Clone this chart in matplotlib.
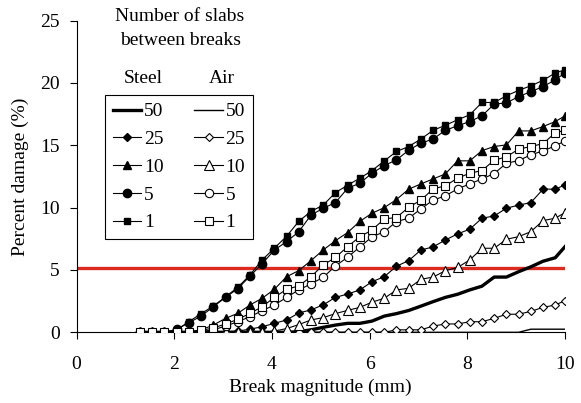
import matplotlib
matplotlib.use("Agg")
import matplotlib.pyplot as plt

plt.rcParams['font.family'] = ['Liberation Serif', 'DejaVu Serif']

break_mm = [1.3, 1.55, 1.8, 2.05, 2.3, 2.55, 2.8, 3.05, 3.3, 3.55, 3.8, 4.05,
            4.3, 4.55, 4.8, 5.05, 5.3, 5.55, 5.8, 6.05, 6.3, 6.55, 6.8, 7.05,
            7.3, 7.55, 7.8, 8.05, 8.3, 8.55, 8.8, 9.05, 9.3, 9.55, 9.8, 10.0]

steel_50 = [0, 0, 0, 0, 0, 0, 0, 0, 0, 0, 0, 0, 0, 0.05, 0.2, 0.4, 0.58, 0.72,
            0.72, 0.9, 1.3, 1.5, 1.75, 2.1, 2.46, 2.8, 3.05, 3.4, 3.7, 4.43,
            4.43, 4.86, 5.25, 5.7, 5.98, 6.87]
steel_25 = [0, 0, 0, 0, 0, 0, 0, 0.05, 0.1, 0.25, 0.45, 0.72, 0.99, 1.55, 1.8,
            2.2, 2.8, 3.07, 3.4, 4.06, 4.46, 5.3, 5.75, 6.6, 6.85, 7.4, 7.89,
            8.27, 9.15, 9.33, 9.95, 10.2, 10.4, 11.48, 11.48, 11.82]
steel_10 = [0, 0, 0, 0, 0.05, 0.2, 0.58, 1.12, 1.52, 2.19, 2.73, 3.45, 4.46,
            4.95, 5.75, 6.6, 7.35, 8.0, 8.9, 9.55, 10.0, 10.65, 11.48, 11.9,
            12.3, 12.7, 13.75, 13.75, 14.57, 14.9, 15.03, 16.15, 16.15, 16.5,
            16.9, 17.36]
steel_5 = [0, 0, 0, 0.24, 0.77, 1.3, 2.05, 2.8, 3.5, 4.5, 5.5, 6.6, 7.27, 8.07,
           9.4, 9.95, 10.4, 11.55, 11.96, 12.76, 13.37, 13.83, 14.6, 15.17,
           15.5, 16.2, 16.56, 16.9, 17.36, 18.3, 18.4, 18.9, 19.3, 19.7, 20.25,
           20.8]
steel_1 = [0, 0, 0, 0.2, 0.85, 1.5, 2.1, 2.85, 3.6, 4.6, 5.8, 6.75, 7.7, 8.9,
           9.7, 10.2, 11.2, 11.8, 12.36, 12.97, 13.75, 14.5, 14.9, 15.5, 16.2,
           16.6, 17.04, 17.44, 18.43, 18.43, 18.97, 19.4, 19.77, 20.2, 20.8,
           21.05]

air_50 = [0, 0, 0, 0, 0, 0, 0, 0, 0, 0, 0, 0, 0, 0, 0, 0, 0, 0, 0, 0, 0, 0, 0,
          0, 0, 0, 0, 0, 0, 0, 0, 0, 0.25, 0.25, 0.25, 0.25]
air_25 = [0, 0, 0, 0, 0, 0, 0, 0, 0, 0, 0, 0, 0, 0, 0, 0, 0, 0, 0, 0, 0, 0.2,
          0.2, 0.2, 0.5, 0.67, 0.67, 0.85, 0.85, 1.12, 1.45, 1.45, 1.68, 2.0,
          2.19, 2.54]
air_10 = [0, 0, 0, 0, 0, 0, 0, 0, 0, 0, 0, 0.1, 0.3, 0.62, 0.99, 1.18, 1.5,
          1.76, 2.0, 2.42, 2.73, 3.4, 3.53, 4.25, 4.43, 4.94, 5.2, 5.8, 6.74,
          6.74, 7.46, 7.67, 8.07, 8.96, 9.15, 9.6]
air_5 = [0, 0, 0, 0, 0, 0.05, 0.2, 0.5, 0.85, 1.25, 1.73, 2.19, 2.8, 3.4, 3.88,
         4.41, 5.32, 6.02, 6.85, 7.65, 8.07, 8.88, 9.15, 9.9, 10.6, 10.94, 11.5,
         11.9, 12.3, 12.73, 13.56, 13.77, 14.23, 14.55, 14.95, 15.35]
air_1 = [0, 0, 0, 0, 0.05, 0.15, 0.35, 0.67, 1.04, 1.52, 2.05, 2.8, 3.45, 3.72,
         4.46, 5.4, 6.0, 6.87, 7.67, 8.2, 9.1, 9.2, 10.03, 10.6, 11.5, 11.75,
         12.36, 12.76, 12.97, 13.8, 14.07, 14.69, 14.9, 15.13, 16.0, 16.2]

threshold = 5.15
labels = ["50", "25", "10", "5", "1"]
x_ticks = [0, 2, 4, 6, 8, 10]
y_ticks = [0, 5, 10, 15, 20, 25]

fig = plt.figure(figsize=(5.81, 4.03), dpi=100)
ax = fig.add_axes([0.1317, 0.1754, 0.8408, 0.7736])

lw = 0.8
ax.axhline(threshold, color='#dc2a1e', lw=2.4, zorder=1)

h = []
h.append(ax.plot(break_mm, steel_50, color='black', lw=2.4, zorder=3)[0])
h.append(ax.plot(break_mm, steel_25, color='black', lw=lw, marker='D', ms=4.2,
                 mfc='black', zorder=3)[0])
h.append(ax.plot(break_mm, steel_10, color='black', lw=lw, marker='^', ms=6,
                 mfc='black', zorder=3)[0])
h.append(ax.plot(break_mm, steel_5, color='black', lw=lw, marker='o', ms=6,
                 mfc='black', zorder=3)[0])
h.append(ax.plot(break_mm, steel_1, color='black', lw=lw, marker='s', ms=5,
                 mfc='black', zorder=3)[0])
h.append(ax.plot(break_mm, air_50, color='black', lw=1.0, zorder=3)[0])
h.append(ax.plot(break_mm, air_25, color='black', lw=lw, marker='D', ms=4.5,
                 mfc='white', mew=0.8, zorder=3)[0])
h.append(ax.plot(break_mm, air_10, color='black', lw=lw, marker='^', ms=6.5,
                 mfc='white', mew=0.8, zorder=3)[0])
h.append(ax.plot(break_mm, air_5, color='black', lw=lw, marker='o', ms=6,
                 mfc='white', mew=0.8, zorder=3)[0])
h.append(ax.plot(break_mm, air_1, color='black', lw=lw, marker='s', ms=6,
                 mfc='white', mew=0.8, zorder=3)[0])

leg = ax.legend(h, labels + labels, ncol=2, loc='upper left',
                bbox_to_anchor=(0.058, 0.761), fontsize=14, frameon=True,
                fancybox=False, edgecolor='black', framealpha=1,
                handlelength=1.45, handletextpad=0.15, columnspacing=1.6,
                labelspacing=0.52, borderpad=0.4, borderaxespad=0)
leg.get_frame().set_linewidth(0.8)

ax.text(0.212, 0.974, "Number of slabs\nbetween breaks", transform=ax.transAxes,
        ha='center', va='center', fontsize=14, linespacing=1.55)
ax.text(0.137, 0.815, "Steel", transform=ax.transAxes, ha='center',
        va='center', fontsize=14)
ax.text(0.298, 0.815, "Air", transform=ax.transAxes, ha='center',
        va='center', fontsize=14)

ax.set_xlim(0, 10)
ax.set_ylim(0, 25)
ax.set_xticks(x_ticks)
ax.set_yticks(y_ticks)
ax.tick_params(axis='both', direction='out', length=5, width=0.8,
               labelsize=14, colors='black')
ax.tick_params(axis='x', pad=12)
ax.tick_params(axis='y', pad=7)
for s in ['top', 'right']:
    ax.spines[s].set_visible(False)
for s in ['left', 'bottom']:
    ax.spines[s].set_linewidth(0.8)

ax.set_xlabel("Break magnitude (mm)", fontsize=14, labelpad=4)
ax.set_ylabel("Percent damage (%)", fontsize=14, labelpad=8)

fig.savefig("out.png", dpi=100)
